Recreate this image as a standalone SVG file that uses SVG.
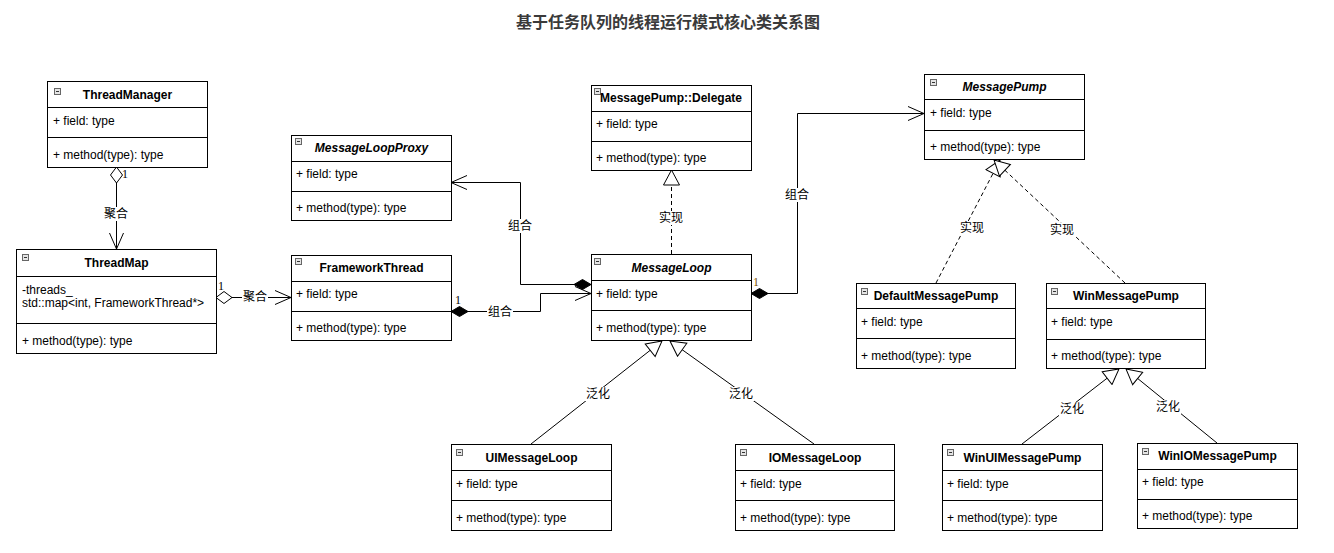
<svg xmlns="http://www.w3.org/2000/svg" width="1334" height="553" viewBox="0 0 1334 553">
<style>
.box{fill:#fff;stroke:#000;stroke-width:1}
.div{stroke:#000;stroke-width:1}
.hd{font-family:"Liberation Sans",Arial,sans-serif;font-size:12px;font-weight:bold;fill:#000;text-anchor:middle}
.it{font-style:italic}
.tx{font-family:"Liberation Sans",Arial,sans-serif;font-size:12px;fill:#000}
.ic{fill:#e4e4e4;stroke:#666;stroke-width:1}
.icm{stroke:#333;stroke-width:1}
.ln{fill:none;stroke:#000;stroke-width:1}
.dash{fill:none;stroke:#000;stroke-width:1;stroke-dasharray:4,3}
.lbl{font-family:"Liberation Sans","Noto Sans CJK SC",sans-serif;font-size:12px;fill:#000;text-anchor:middle}
.lb{fill:#fff}
.mul{font-family:"Liberation Serif",serif;font-size:12px;fill:#000}
.mulo{font-family:"Liberation Serif",serif;font-size:12px;fill:#7a5200}
.title{font-family:"Noto Sans CJK SC",sans-serif;font-size:16px;font-weight:bold;fill:#3a3a3a;text-anchor:middle}
</style>
<defs>
<marker id="open" viewBox="0 0 17 16" refX="16" refY="8" markerWidth="17" markerHeight="16" markerUnits="userSpaceOnUse" orient="auto">
<path d="M0,1 L16,8 L0,15" fill="none" stroke="#000" stroke-width="1"/>
</marker>
<marker id="tri" viewBox="0 0 17 18" refX="16" refY="9" markerWidth="17" markerHeight="18" markerUnits="userSpaceOnUse" orient="auto">
<path d="M1,1 L16,9 L1,17 Z" fill="#fff" stroke="#000" stroke-width="1"/>
</marker>
<marker id="hdia" viewBox="0 0 17 14" refX="0.5" refY="7" markerWidth="17" markerHeight="14" markerUnits="userSpaceOnUse" orient="auto">
<path d="M0.5,7 L8.5,1 L16.5,7 L8.5,13 Z" fill="#fff" stroke="#000" stroke-width="1"/>
</marker>
<marker id="fdia" viewBox="0 0 18 12" refX="0.5" refY="6" markerWidth="18" markerHeight="12" markerUnits="userSpaceOnUse" orient="auto">
<path d="M0.5,6 L9,1 L17.5,6 L9,11 Z" fill="#000" stroke="#000" stroke-width="1"/>
</marker>
</defs>
<rect width="1334" height="553" fill="#fff"/>
<text class="title" x="668" y="28">基于任务队列的线程运行模式核心类关系图</text>

<g id="connectors">
<path class="ln" d="M116.5,167 V249" marker-start="url(#hdia)" marker-end="url(#open)"/>
<path class="ln" d="M216,297.5 H291" marker-start="url(#hdia)" marker-end="url(#open)"/>
<path class="ln" d="M451,311.5 H540.5 V293.5 H591" marker-start="url(#fdia)" marker-end="url(#open)"/>
<path class="ln" d="M591,284.5 H520.5 V182.5 H451" marker-start="url(#fdia)" marker-end="url(#open)"/>
<path class="ln" d="M751,293.5 H797.5 V113.5 H924" marker-start="url(#fdia)" marker-end="url(#open)"/>
<path class="dash" d="M671.5,254 V170" marker-end="url(#tri)"/>
<path class="dash" d="M936,283 L1000,160" marker-end="url(#tri)"/>
<path class="dash" d="M1125,283 L994,160" marker-end="url(#tri)"/>
<path class="ln" d="M531,444 L662,341" marker-end="url(#tri)"/>
<path class="ln" d="M814,444 L670,341" marker-end="url(#tri)"/>
<path class="ln" d="M1022,444 L1119,369" marker-end="url(#tri)"/>
<path class="ln" d="M1217,443 L1126,369" marker-end="url(#tri)"/>

<rect class="lb" x="103" y="207" width="26" height="14"/><text class="lbl" x="116" y="218">聚合</text>
<rect class="lb" x="242" y="290" width="26" height="14"/><text class="lbl" x="255" y="301">聚合</text>
<rect class="lb" x="487" y="305" width="26" height="14"/><text class="lbl" x="500" y="316">组合</text>
<rect class="lb" x="507" y="219" width="26" height="14"/><text class="lbl" x="520" y="230">组合</text>
<rect class="lb" x="784" y="188" width="26" height="14"/><text class="lbl" x="797" y="199">组合</text>
<rect class="lb" x="658" y="211" width="26" height="14"/><text class="lbl" x="671" y="222">实现</text>
<rect class="lb" x="959" y="221" width="26" height="14"/><text class="lbl" x="972" y="232">实现</text>
<rect class="lb" x="1049" y="223" width="26" height="14"/><text class="lbl" x="1062" y="234">实现</text>
<rect class="lb" x="585" y="387" width="26" height="14"/><text class="lbl" x="598" y="398">泛化</text>
<rect class="lb" x="728" y="387" width="26" height="14"/><text class="lbl" x="741" y="398">泛化</text>
<rect class="lb" x="1059" y="402" width="26" height="14"/><text class="lbl" x="1072" y="413">泛化</text>
<rect class="lb" x="1155" y="400" width="26" height="14"/><text class="lbl" x="1168" y="411">泛化</text>

<text class="mul" x="218" y="290">1</text>
<text class="mul" x="455" y="304">1</text>
<text class="mulo" x="592" y="282">1</text>
<text class="mulo" x="753" y="286">1</text>
<text class="mul" x="122" y="178" font-size="11">1</text>
</g>

<g id="ThreadManager">
<rect class="box" x="47.5" y="81.5" width="160" height="86"/>
<line class="div" x1="47.5" y1="107.5" x2="207.5" y2="107.5"/>
<line class="div" x1="47.5" y1="137.5" x2="207.5" y2="137.5"/>
<rect class="ic" x="54.5" y="88.5" width="6" height="6"/><line class="icm" x1="56" y1="91.5" x2="59" y2="91.5"/>
<text class="hd" x="127.5" y="99">ThreadManager</text>
<text class="tx" x="53" y="125">+ field: type</text>
<text class="tx" x="53" y="159">+ method(type): type</text>
</g>

<g id="ThreadMap">
<rect class="box" x="16.5" y="249.5" width="200" height="104"/>
<line class="div" x1="16.5" y1="276.5" x2="216.5" y2="276.5"/>
<line class="div" x1="16.5" y1="323.5" x2="216.5" y2="323.5"/>
<rect class="ic" x="22.5" y="254.5" width="6" height="6"/><line class="icm" x1="24" y1="257.5" x2="27" y2="257.5"/>
<text class="hd" x="116.5" y="267">ThreadMap</text>
<text class="tx" x="22" y="294">-threads_</text>
<text class="tx" x="22" y="307">std::map&lt;int, FrameworkThread*&gt;</text>
<text class="tx" x="22" y="345">+ method(type): type</text>
</g>

<g id="MessageLoopProxy">
<rect class="box" x="291.5" y="135.5" width="160" height="85"/>
<line class="div" x1="291.5" y1="161.5" x2="451.5" y2="161.5"/>
<line class="div" x1="291.5" y1="191.5" x2="451.5" y2="191.5"/>
<rect class="ic" x="295.5" y="138.5" width="6" height="6"/><line class="icm" x1="297" y1="141.5" x2="300" y2="141.5"/>
<text class="hd it" x="371.5" y="152">MessageLoopProxy</text>
<text class="tx" x="296" y="178">+ field: type</text>
<text class="tx" x="296" y="212">+ method(type): type</text>
</g>

<g id="FrameworkThread">
<rect class="box" x="291.5" y="255.5" width="160" height="85"/>
<line class="div" x1="291.5" y1="281.5" x2="451.5" y2="281.5"/>
<line class="div" x1="291.5" y1="311.5" x2="451.5" y2="311.5"/>
<rect class="ic" x="295.5" y="258.5" width="6" height="6"/><line class="icm" x1="297" y1="261.5" x2="300" y2="261.5"/>
<text class="hd" x="371.5" y="272">FrameworkThread</text>
<text class="tx" x="296" y="298">+ field: type</text>
<text class="tx" x="296" y="332">+ method(type): type</text>
</g>

<g id="MessagePumpDelegate">
<rect class="box" x="591.5" y="85.5" width="160" height="85"/>
<line class="div" x1="591.5" y1="111.5" x2="751.5" y2="111.5"/>
<line class="div" x1="591.5" y1="141.5" x2="751.5" y2="141.5"/>
<rect class="ic" x="594.5" y="88.5" width="6" height="6"/><line class="icm" x1="596" y1="91.5" x2="599" y2="91.5"/>
<text class="hd" x="671" y="102">MessagePump::Delegate</text>
<text class="tx" x="596" y="128">+ field: type</text>
<text class="tx" x="596" y="162">+ method(type): type</text>
</g>

<g id="MessageLoop">
<rect class="box" x="591.5" y="254.5" width="160" height="86"/>
<line class="div" x1="591.5" y1="280.5" x2="751.5" y2="280.5"/>
<line class="div" x1="591.5" y1="310.5" x2="751.5" y2="310.5"/>
<rect class="ic" x="594.5" y="258.5" width="6" height="6"/><line class="icm" x1="596" y1="261.5" x2="599" y2="261.5"/>
<text class="hd it" x="671.5" y="272">MessageLoop</text>
<text class="tx" x="596" y="298">+ field: type</text>
<text class="tx" x="596" y="332">+ method(type): type</text>
</g>

<g id="MessagePump">
<rect class="box" x="924.5" y="74.5" width="160" height="85"/>
<line class="div" x1="924.5" y1="99.5" x2="1084.5" y2="99.5"/>
<line class="div" x1="924.5" y1="130.5" x2="1084.5" y2="130.5"/>
<rect class="ic" x="930.5" y="79.5" width="6" height="6"/><line class="icm" x1="932" y1="82.5" x2="935" y2="82.5"/>
<text class="hd it" x="1004.5" y="91">MessagePump</text>
<text class="tx" x="930" y="117">+ field: type</text>
<text class="tx" x="930" y="151">+ method(type): type</text>
</g>

<g id="DefaultMessagePump">
<rect class="box" x="856.5" y="283.5" width="159" height="85"/>
<line class="div" x1="856.5" y1="308.5" x2="1015.5" y2="308.5"/>
<line class="div" x1="856.5" y1="338.5" x2="1015.5" y2="338.5"/>
<rect class="ic" x="861.5" y="288.5" width="6" height="6"/><line class="icm" x1="863" y1="291.5" x2="866" y2="291.5"/>
<text class="hd" x="936" y="300">DefaultMessagePump</text>
<text class="tx" x="861" y="326">+ field: type</text>
<text class="tx" x="861" y="360">+ method(type): type</text>
</g>

<g id="WinMessagePump">
<rect class="box" x="1046.5" y="283.5" width="159" height="85"/>
<line class="div" x1="1046.5" y1="308.5" x2="1205.5" y2="308.5"/>
<line class="div" x1="1046.5" y1="339.5" x2="1205.5" y2="339.5"/>
<rect class="ic" x="1051.5" y="288.5" width="6" height="6"/><line class="icm" x1="1053" y1="291.5" x2="1056" y2="291.5"/>
<text class="hd" x="1126" y="300">WinMessagePump</text>
<text class="tx" x="1051" y="326">+ field: type</text>
<text class="tx" x="1051" y="360">+ method(type): type</text>
</g>

<g id="UIMessageLoop">
<rect class="box" x="451.5" y="444.5" width="160" height="86"/>
<line class="div" x1="451.5" y1="470.5" x2="611.5" y2="470.5"/>
<line class="div" x1="451.5" y1="500.5" x2="611.5" y2="500.5"/>
<rect class="ic" x="456.5" y="449.5" width="6" height="6"/><line class="icm" x1="458" y1="452.5" x2="461" y2="452.5"/>
<text class="hd" x="531.5" y="462">UIMessageLoop</text>
<text class="tx" x="456" y="488">+ field: type</text>
<text class="tx" x="456" y="522">+ method(type): type</text>
</g>

<g id="IOMessageLoop">
<rect class="box" x="735.5" y="444.5" width="159" height="86"/>
<line class="div" x1="735.5" y1="470.5" x2="894.5" y2="470.5"/>
<line class="div" x1="735.5" y1="500.5" x2="894.5" y2="500.5"/>
<rect class="ic" x="740.5" y="449.5" width="6" height="6"/><line class="icm" x1="742" y1="452.5" x2="745" y2="452.5"/>
<text class="hd" x="815" y="462">IOMessageLoop</text>
<text class="tx" x="740" y="488">+ field: type</text>
<text class="tx" x="740" y="522">+ method(type): type</text>
</g>

<g id="WinUIMessagePump">
<rect class="box" x="942.5" y="444.5" width="160" height="86"/>
<line class="div" x1="942.5" y1="470.5" x2="1102.5" y2="470.5"/>
<line class="div" x1="942.5" y1="500.5" x2="1102.5" y2="500.5"/>
<rect class="ic" x="947.5" y="449.5" width="6" height="6"/><line class="icm" x1="949" y1="452.5" x2="952" y2="452.5"/>
<text class="hd" x="1022.5" y="462">WinUIMessagePump</text>
<text class="tx" x="947" y="488">+ field: type</text>
<text class="tx" x="947" y="522">+ method(type): type</text>
</g>

<g id="WinIOMessagePump">
<rect class="box" x="1137.5" y="443.5" width="160" height="85"/>
<line class="div" x1="1137.5" y1="469.5" x2="1297.5" y2="469.5"/>
<line class="div" x1="1137.5" y1="499.5" x2="1297.5" y2="499.5"/>
<rect class="ic" x="1142.5" y="448.5" width="6" height="6"/><line class="icm" x1="1144" y1="451.5" x2="1147" y2="451.5"/>
<text class="hd" x="1217.5" y="460">WinIOMessagePump</text>
<text class="tx" x="1142" y="486">+ field: type</text>
<text class="tx" x="1142" y="520">+ method(type): type</text>
</g>
</svg>
